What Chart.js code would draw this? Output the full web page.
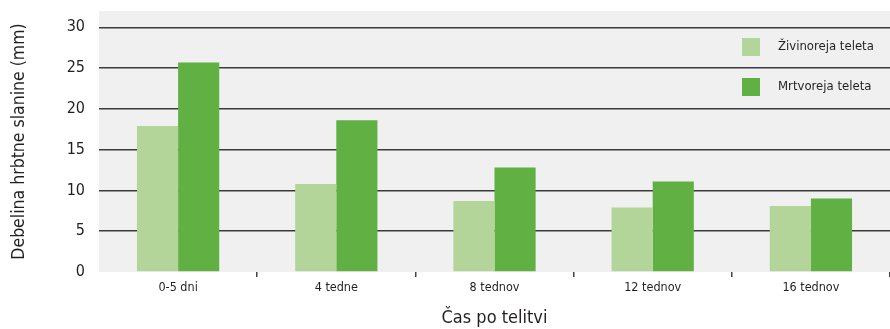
<!DOCTYPE html>
<html>
<head>
<meta charset="utf-8">
<script src="https://cdn.jsdelivr.net/npm/chart.js@4"></script>
<style>
  html, body { margin: 0; padding: 0; background: #fff; }
  canvas { display: block; }
</style>
</head>
<body>
<canvas id="slaninaChart" width="890" height="329"></canvas>
<script>
/*---- podatki ----- */
var kategorije = ['0-5 dni', '4 tedne', '8 tednov', '12 tednov', '16 tednov'];
var zivinoreja = [17.9, 10.8, 8.7, 7.9, 8.1];
var mrtvoreja = [25.7, 18.6, 12.8, 11.1, 9.0];
var yTicks = [0, 5, 10, 15, 20, 25, 30];

var pisava = "'DejaVu Sans Condensed', 'Liberation Sans Narrow', sans-serif";
var barvaTeksta = '#231f20';

/*---- siva podlaga ----- */
var ozadje = {
  id: 'ozadje',
  beforeDraw: function (chart) {
    var a = chart.chartArea, c = chart.ctx;
    c.save();
    c.fillStyle = '#eff0ef';
    c.fillRect(a.left, a.top, a.right - a.left, a.bottom - a.top);
    c.restore();
  }
};

/*---- legenda v grafu (zgoraj desno) ----- */
var legenda = {
  id: 'legenda',
  afterDraw: function (chart) {
    var c = chart.ctx;
    c.save();
    c.font = '13px ' + pisava;
    c.textBaseline = 'middle';
    chart.data.datasets.forEach(function (ds, i) {
      var y = 38 + i * 40;
      c.fillStyle = ds.backgroundColor;
      c.fillRect(742, y, 18, 18);
      c.fillStyle = barvaTeksta;
      c.fillText(ds.label, 778, y + 9);
    });
    c.restore();
  }
};

var ctx = document.getElementById('slaninaChart').getContext('2d');
var slaninaChart = new Chart(ctx, {
  type: 'bar',
  data: {
    labels: kategorije,
    datasets: [{
      label: 'Živinoreja teleta',
      data: zivinoreja,
      backgroundColor: '#b3d599',
      borderWidth: 0
    }, {
      label: 'Mrtvoreja teleta',
      data: mrtvoreja,
      backgroundColor: '#61b043',
      borderWidth: 0
    }]
  },
  options: {
    responsive: false,
    animation: false,
    layout: { padding: { top: 11, right: 0, bottom: 0, left: 0 } },
    categoryPercentage: 0.52,
    barPercentage: 1,
    plugins: {
      legend: { display: false },
      tooltip: { enabled: false }
    },
    scales: {
      x: {
        border: { display: false },
        grid: {
          offset: true,
          drawOnChartArea: false,
          drawTicks: true,
          tickLength: 5,
          lineWidth: 1.5,
          color: function (c) { return c.index === 0 ? 'rgba(0,0,0,0)' : '#444'; }
        },
        ticks: {
          color: barvaTeksta,
          font: { family: pisava, size: 12.5 },
          padding: 3
        },
        title: {
          display: true,
          text: 'Čas po telitvi',
          color: barvaTeksta,
          font: { family: pisava, size: 18 },
          padding: { top: 12, bottom: 0 }
        },
        afterFit: function (s) { s.height = 57; s.paddingLeft = 0; s.paddingRight = 0; }
      },
      y: {
        min: 0,
        max: 32,
        afterBuildTicks: function (s) {
          s.ticks = yTicks.map(function (v) { return { value: v }; });
        },
        border: { display: false },
        grid: {
          drawTicks: false,
          lineWidth: 1.5,
          color: function (c) { return c.tick && c.tick.value === 0 ? 'rgba(0,0,0,0)' : '#3a3a3a'; }
        },
        ticks: {
          color: barvaTeksta,
          font: { family: pisava, size: 16 },
          padding: 14
        },
        title: {
          display: true,
          text: 'Debelina hrbtne slanine (mm)',
          color: barvaTeksta,
          font: { family: pisava, size: 17.5 },
          padding: { top: 9, bottom: 0 }
        },
        afterFit: function (s) { s.width = 99; s.paddingTop = 0; s.paddingBottom = 0; }
      }
    }
  },
  plugins: [ozadje, legenda]
});
</script>
</body>
</html>
